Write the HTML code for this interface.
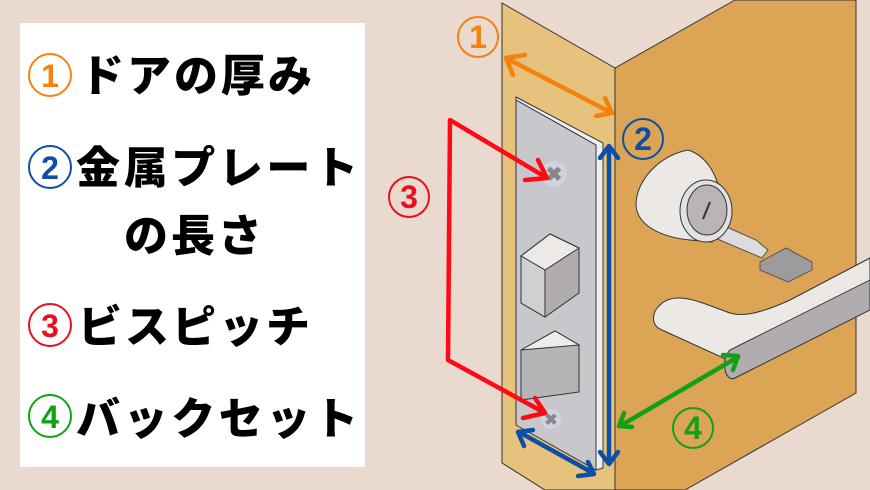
<!DOCTYPE html>
<html><head><meta charset="utf-8"><style>
body{margin:0;width:870px;height:490px;overflow:hidden;background:#ead9cf}
svg{display:block}
.t{font-family:"Liberation Sans","Noto Sans CJK JP",sans-serif;font-weight:900;font-size:44px;fill:#000}
.n{font-family:"Liberation Sans",sans-serif;font-weight:bold;font-size:32px;text-anchor:middle}
</style></head><body>
<svg width="870" height="490" viewBox="0 0 870 490">
<rect width="870" height="490" fill="#ead9cf"/>
<rect x="20" y="23" width="345" height="444" fill="#fff"/>
<g fill="none" stroke-width="2">
<circle cx="50" cy="75" r="21" stroke="#f5820f"/>
<circle cx="50" cy="167" r="21" stroke="#0c4fa8"/>
<circle cx="50" cy="325" r="21" stroke="#e8101c"/>
<circle cx="50" cy="416" r="21" stroke="#14a014"/>
</g>
<text class="n" x="50" y="87" fill="#f5820f">1</text>
<text class="n" x="50" y="179" fill="#0c4fa8">2</text>
<text class="n" x="50" y="337" fill="#e8101c">3</text>
<text class="n" x="50" y="428" fill="#14a014">4</text>
<text class="t" x="80" y="91" textLength="232">ドアの厚み</text>
<text class="t" x="76" y="183" textLength="282">金属プレート</text>
<text class="t" x="124" y="251" textLength="138">の長さ</text>
<text class="t" x="78" y="342" textLength="232">ビスピッチ</text>
<text class="t" x="76" y="434" textLength="282">バックセット</text>
<polygon points="615,68 735,0 856,0 856,393 685,490 615,490" fill="#dba555" stroke="#333" stroke-width="1"/>
<polygon points="502,3 615,68 615,490 545,490 502,463" fill="#e6c27c" stroke="#333" stroke-width="1"/>
<polygon points="516,97 603,143 603,468 596,470 596,145 516,100" fill="#f0efef" stroke="#333" stroke-width="1"/>
<polygon points="516,100 596,145 596,470 516,425" fill="#c8c8cc" stroke="#333" stroke-width="1"/>
<circle cx="554" cy="174" r="13" fill="#cfd2e0"/>
<text x="554" y="181" font-size="20" font-weight="bold" text-anchor="middle" fill="#888" font-family="Liberation Sans">✖</text>
<circle cx="551" cy="419" r="10" fill="#cfd2e0"/>
<text x="551" y="425" font-size="16" font-weight="bold" text-anchor="middle" fill="#888" font-family="Liberation Sans">✖</text>
<polygon points="521,256 550,234 579,248 579,293 545,317 521,303" fill="#b0acb0" stroke="#333"/>
<polygon points="521,256 550,234 579,248 545,270" fill="#ece9e7" stroke="#333"/>
<polygon points="521,256 545,270 545,317 521,303" fill="#d0cfd2" stroke="#333"/>
<polygon points="521,350 555,331 579,345 579,392 521,400" fill="#b5b5b7" stroke="#333"/>
<polygon points="521,350 555,331 579,345" fill="#eeeceb" stroke="#333"/>
<!-- key -->
<polygon points="715,222 738,232 756,240 768,250 762,258 715,238" fill="#dcdcde" stroke="#555"/>
<polygon points="760,262 786,248 812,262 812,270 788,282 760,270" fill="#9e9b9c" stroke="#555"/>
<!-- cylinder -->
<path d="M688,150 C660,155 636,180 636,205 C637,225 660,237 690,240 L712,242 C730,210 720,160 688,150Z" fill="#ece8e5" stroke="#333"/>
<ellipse cx="706" cy="211" rx="26" ry="31" fill="#e2e2e4" stroke="#333"/>
<ellipse cx="707" cy="210" rx="20" ry="25" fill="#b9b4b8" stroke="#333"/>
<line x1="703" y1="219" x2="710" y2="202" stroke="#333" stroke-width="2"/>
<!-- lever -->
<path d="M660,305 C675,290 700,302 730,313 C740,316 755,316 790,300 L870,258 L870,285 L760,352 C748,360 735,365 728,360 L662,330 C650,325 652,312 660,305Z" fill="#ece8e5" stroke="#333"/>
<path d="M740,345 L870,280 L870,310 L735,378 C725,383 720,360 730,350Z" fill="#b1acb0" stroke="#333"/>
<g fill="none" stroke-width="4.5" stroke-linecap="round" stroke-linejoin="round">
<g stroke="#f5820f">
<line x1="506" y1="58" x2="612" y2="113"/>
<polyline points="525,55 506,58 513,75"/>
<polyline points="596,116 612,113 605,98"/>
</g>
<g stroke="#0c4fa8">
<line x1="609" y1="148" x2="609" y2="460"/>
<polyline points="600,158 609,146 618,158"/>
<polyline points="600,452 609,464 618,452"/>
<line x1="519" y1="432" x2="593" y2="473"/>
<polyline points="524,446 518,432 533,430"/>
<polyline points="578,476 594,474 588,462"/>
</g>
<g stroke="#ff0a14">
<polyline points="547,178 450,120 448,360 545,413"/>
<polyline points="525,180 547,178 538,160"/>
<polyline points="523,418 545,413 535,398"/>
</g>
<g stroke="#14a014">
<line x1="620" y1="426" x2="738" y2="357"/>
<polyline points="632,427 619,426 624,413"/>
<polyline points="723,355 738,356 733,370"/>
</g>
</g>
<g fill="none" stroke-width="2">
<circle cx="478" cy="37" r="20" stroke="#f5820f"/>
<circle cx="643" cy="139" r="20" stroke="#0c4fa8"/>
<circle cx="409" cy="197" r="20" stroke="#e8101c"/>
<circle cx="693" cy="428" r="20" stroke="#14a014"/>
</g>
<text class="n" x="478" y="48" fill="#f5820f">1</text>
<text class="n" x="643" y="150" fill="#0c4fa8">2</text>
<text class="n" x="409" y="208" fill="#e8101c">3</text>
<text class="n" x="693" y="439" fill="#14a014">4</text>
</svg>
</body></html>
